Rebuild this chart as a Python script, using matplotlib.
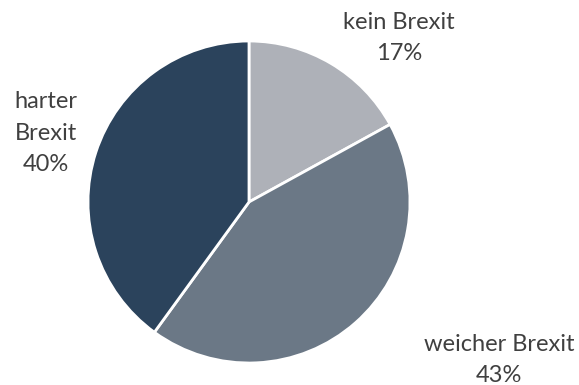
import matplotlib
matplotlib.use("Agg")
import matplotlib.pyplot as plt

# Survey shares
categories = ["kein Brexit", "weicher Brexit", "harter Brexit"]
shares = [17, 43, 40]
label_lines = ["kein Brexit", "weicher Brexit", "harter\nBrexit"]

colors = ["#AEB1B8", "#6B7886", "#2B435C"]
text_color = "#404040"

W, H = 579, 385
fig = plt.figure(figsize=(W / 100, H / 100), dpi=100)
ax = fig.add_axes([0, 0, 1, 1])

cx, cy, r = 249, H - 202, 161
ax.pie(shares, colors=colors, startangle=90, counterclock=False,
       center=(cx, cy), radius=r, frame=True,
       wedgeprops=dict(edgecolor="white", linewidth=2))
ax.set_xlim(0, W)
ax.set_ylim(0, H)
ax.set_aspect("equal")
ax.axis("off")

# label anchor points (centre of text block)
label_pos = [(399, H - 38), (499, H - 360), (46, H - 133)]
for txt, val, (x, y) in zip(label_lines, shares, label_pos):
    ax.text(x, y, f"{txt}\n{val}%", ha="center", va="center",
            fontsize=17, color=text_color, family="Lato", linespacing=1.6)

fig.savefig("out.png", dpi=100)
